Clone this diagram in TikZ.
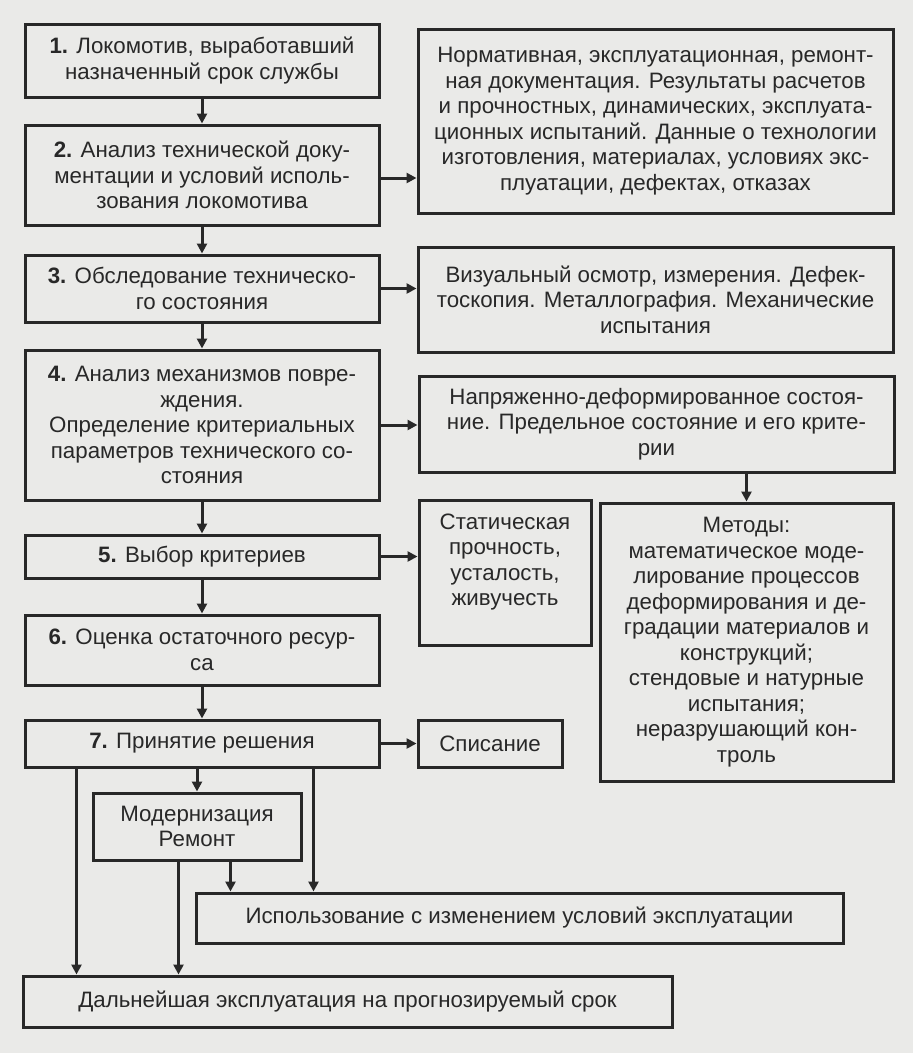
\documentclass[tikz,border=0pt]{standalone}
\usepackage{fontspec}
\setmainfont{Liberation Sans}
\usetikzlibrary{arrows.meta}
\definecolor{paper}{RGB}{234,234,232}
\definecolor{ink}{RGB}{40,40,40}
\tikzstyle{block} = [rectangle, draw=ink, line width=3pt, fill=paper, text=ink, align=center, inner sep=0pt, font=\fontsize{22.3}{25.5}\selectfont]
\tikzstyle{arrow} = [-{Triangle[length=10pt, width=10pt]}, draw=ink, line width=3pt]

\begin{document}
\begin{tikzpicture}[x=1pt, y=-1pt]

\useasboundingbox[fill=paper] (0,0) rectangle (913,1053);

% main chain
\node[block, minimum width=354pt, minimum height=73pt] (s1) at (202,60.5) {\textbf{1.} Локомотив, выработавший\\назначенный срок службы};
\node[block, minimum width=354pt, minimum height=100pt] (s2) at (202,175) {\textbf{2.} Анализ технической доку-\\ментации и условий исполь-\\зования локомотива};
\node[block, minimum width=354pt, minimum height=67pt] (s3) at (202,288.5) {\textbf{3.} Обследование техническо-\\го состояния};
\node[block, minimum width=354pt, minimum height=150pt] (s4) at (202,425) {\textbf{4.} Анализ механизмов повре-\\ждения.\\Определение критериальных\\параметров технического со-\\стояния};
\node[block, minimum width=354pt, minimum height=43pt] (s5) at (202,556.5) {\textbf{5.} Выбор критериев};
\node[block, minimum width=354pt, minimum height=70pt] (s6) at (202,650) {\textbf{6.} Оценка остаточного ресур-\\са};
\node[block, minimum width=354pt, minimum height=47pt] (s7) at (202,743.5) {\textbf{7.} Принятие решения};

% side boxes
\node[block, minimum width=475pt, minimum height=184pt] (docs) at (655.5,121) {Нормативная, эксплуатационная, ремонт-\\ная документация. Результаты расчетов\\и прочностных, динамических, эксплуата-\\ционных испытаний. Данные о технологии\\изготовления, материалах, условиях экс-\\плуатации, дефектах, отказах};
\node[block, minimum width=475pt, minimum height=105pt] (survey) at (655.5,299.5) {Визуальный осмотр, измерения. Дефек-\\тоскопия. Металлография. Механические\\испытания};
\node[block, minimum width=475pt, minimum height=96pt] (stress) at (656.5,424) {Напряженно-деформированное состоя-\\ние. Предельное состояние и его крите-\\рии};
\node[block, minimum width=172pt, minimum height=145pt] (crit) at (505,572.5) {Статическая\\прочность,\\усталость,\\живучесть\\\mbox{}};
\node[block, minimum width=293pt, minimum height=278pt] (methods) at (746.5,642) {Методы:\\математическое моде-\\лирование процессов\\деформирования и де-\\градации материалов и\\конструкций;\\стендовые и натурные\\испытания;\\неразрушающий кон-\\троль};
\node[block, minimum width=144pt, minimum height=47pt] (writeoff) at (490,743.5) {Списание};

% outcomes
\node[block, minimum width=208pt, minimum height=67pt] (repair) at (197,826.5) {Модернизация\\Ремонт};
\node[block, minimum width=647pt, minimum height=50pt] (reuse) at (519.5,918) {Использование с изменением условий эксплуатации};
\node[block, minimum width=649pt, minimum height=51pt] (further) at (347.5,1001.5) {Дальнейшая эксплуатация на прогнозируемый срок};

\draw[arrow] (s1) -- (s2);
\draw[arrow] (s2) -- (s3);
\draw[arrow] (s3) -- (s4);
\draw[arrow] (s4) -- (s5);
\draw[arrow] (s5) -- (s6);
\draw[arrow] (s6) -- (s7);

\draw[arrow] ([yshift=-3pt]s2.east) -- ([yshift=-3pt]s2.east -| docs.west);
\draw[arrow] (s3) -- (s3 -| survey.west);
\draw[arrow] (s4) -- (s4 -| stress.west);
\draw[arrow] (s5) -- (s5 -| crit.west);
\draw[arrow] (s7) -- (writeoff);
\draw[arrow] (stress.south -| methods.north) -- (methods.north);

\draw[arrow] ([xshift=53pt]s7.south west) -- ([xshift=53pt]s7.south west |- further.north);
\draw[arrow] (s7.south -| repair.north) -- (repair.north);
\draw[arrow] ([xshift=290pt]s7.south west) -- ([xshift=290pt]s7.south west |- reuse.north);
\draw[arrow] ([xshift=87pt]repair.south west) -- ([xshift=87pt]repair.south west |- further.north);
\draw[arrow] ([xshift=139pt]repair.south west) -- ([xshift=139pt]repair.south west |- reuse.north);

\end{tikzpicture}
\end{document}
